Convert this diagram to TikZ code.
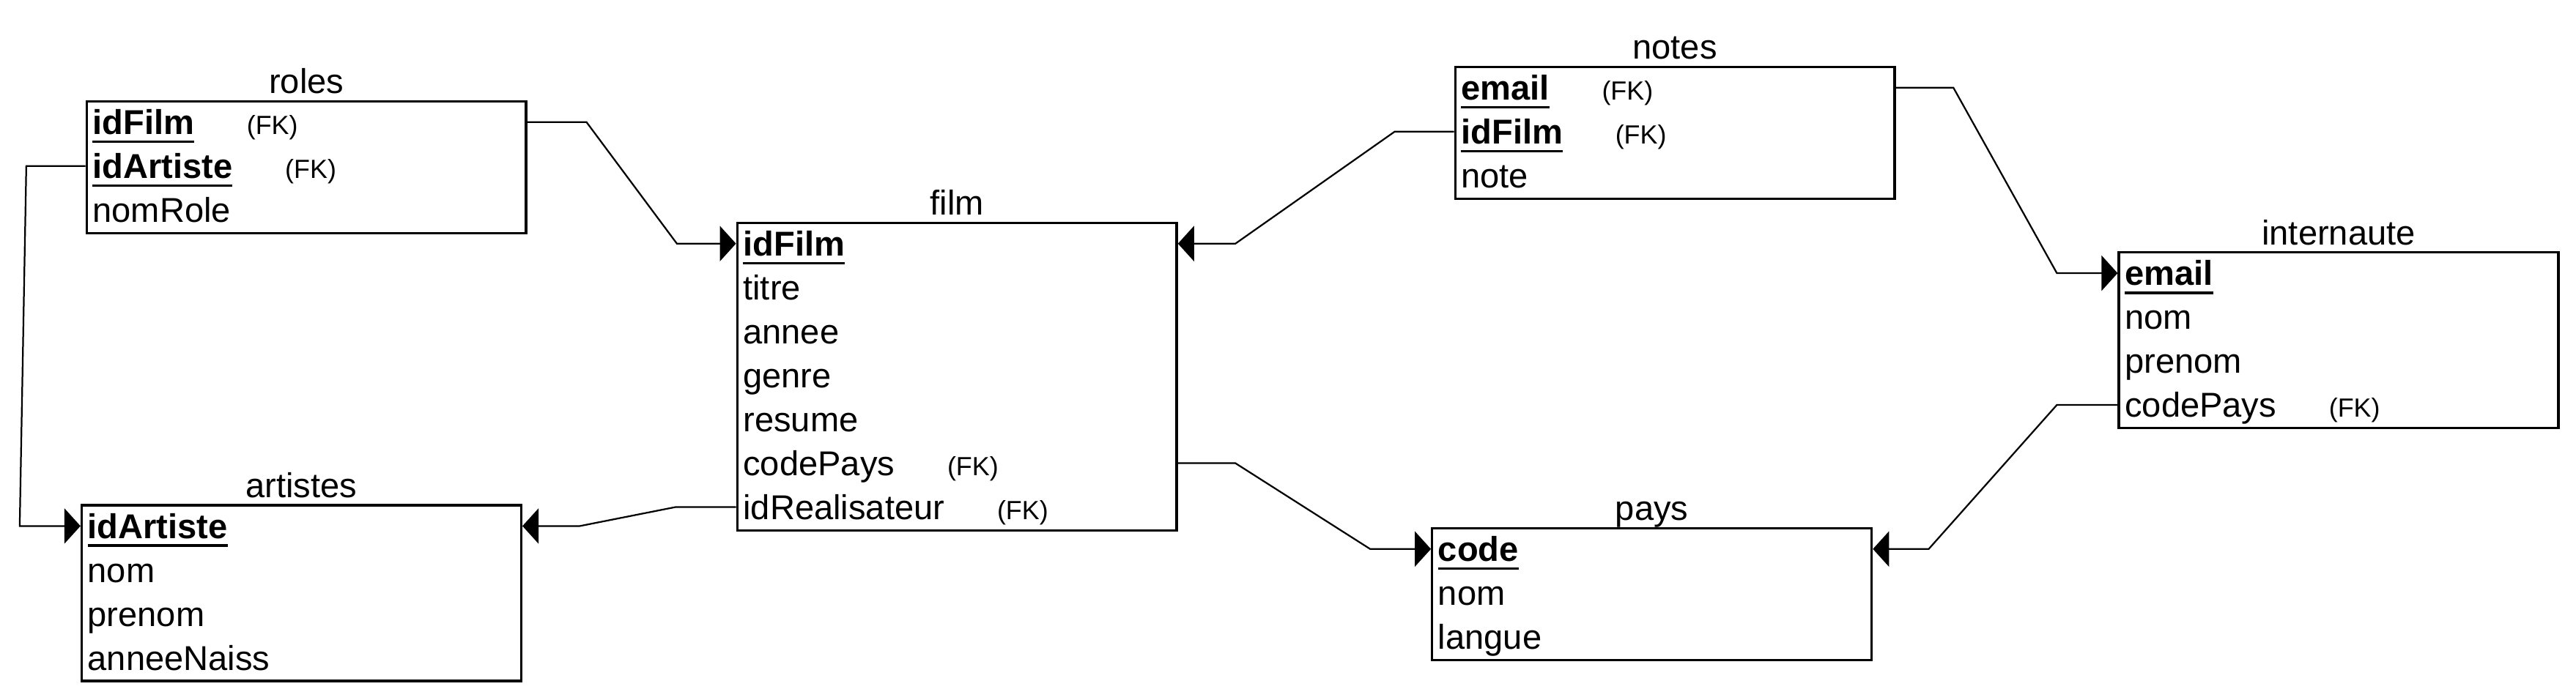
\documentclass[tikz,border=0pt]{standalone}
\usepackage{fontspec}
\setmainfont{Liberation Sans}
\usetikzlibrary{arrows.meta,calc}
\newcommand\pkey[1]{\setbox0\hbox{\bfseries #1}\rlap{\copy0}\rule[-2.6pt]{\wd0}{0.8pt}}
\newcommand\fkmark{\hspace{16pt}{\fontsize{8}{9.6}\selectfont (FK)}}
\newcommand\entity[5]{%
  \node[tblbox, minimum height={#3*13.375pt}] (#1) at (#2) {};
  \node[ttl] (#1-t) at ($(#1.north)+(0,-4)$) {#4};
  \foreach \r [count=\i] in {#5} {\node[rowtxt] (#1-\i) at ($(#1.north west)+(4,{(\i-0.5)*26.75})$) {\r};}%
}
\begin{document}
\begin{tikzpicture}[x=0.5pt,y=-0.5pt,
  tblbox/.style={draw, line width=0.75pt, anchor=north west, inner sep=0pt, minimum width=133.75pt},
  ttl/.style={anchor=base, inner sep=0pt, font=\fontsize{10.5}{12.6}\selectfont},
  rowtxt/.style={anchor=west, inner sep=0pt, text height=8pt, text depth=0.5pt, font=\fontsize{10.5}{12.6}\selectfont},
  fk/.style={line width=0.5pt, -{Triangle[length=4.9pt,width=10.7pt]}}]
\useasboundingbox (0,0) rectangle (1568,426.3);

\entity{roles}{52,61}{3}{roles}{\pkey{idFilm}\fkmark, \pkey{idArtiste}\fkmark, nomRole}
\entity{film}{448,135}{7}{film}{\pkey{idFilm}, titre, annee, genre, resume, codePays\fkmark, idRealisateur\fkmark}
\entity{artistes}{49,307}{4}{artistes}{\pkey{idArtiste}, nom, prenom, anneeNaiss}
\entity{notes}{885,40}{3}{notes}{\pkey{email}\fkmark, \pkey{idFilm}\fkmark, note}
\entity{internaute}{1289,153}{4}{internaute}{\pkey{email}, nom, prenom, codePays\fkmark}
\entity{pays}{871,321}{3}{pays}{\pkey{code}, nom, langue}

\draw[fk] (roles-1 -| roles.east) -- ++(36,0) -- ($(film-1 -| film.west)+(-36,0)$) -- (film-1 -| film.west);
\draw[fk] (roles-2 -| roles.west) -- ++(-36,0) -- ($(artistes-1 -| artistes.west)+(-37,0)$) -- (artistes-1 -| artistes.west);
\draw[fk] (film-7 -| film.west) -- ++(-37,0) -- ($(artistes-1 -| artistes.east)+(35,0)$) -- (artistes-1 -| artistes.east);
\draw[fk] (notes-2 -| notes.west) -- ++(-36,0) -- ($(film-1 -| film.east)+(35,0)$) -- (film-1 -| film.east);
\draw[fk] (film-6 -| film.east) -- ++(35,0) -- ($(pays-1 -| pays.west)+(-37,0)$) -- (pays-1 -| pays.west);
\draw[fk] (notes-1 -| notes.east) -- ++(35,0) -- ($(internaute-1 -| internaute.west)+(-37,0)$) -- (internaute-1 -| internaute.west);
\draw[fk] (internaute-4 -| internaute.west) -- ++(-37,0) -- ($(pays-1 -| pays.east)+(34,0)$) -- (pays-1 -| pays.east);
\end{tikzpicture}
\end{document}
